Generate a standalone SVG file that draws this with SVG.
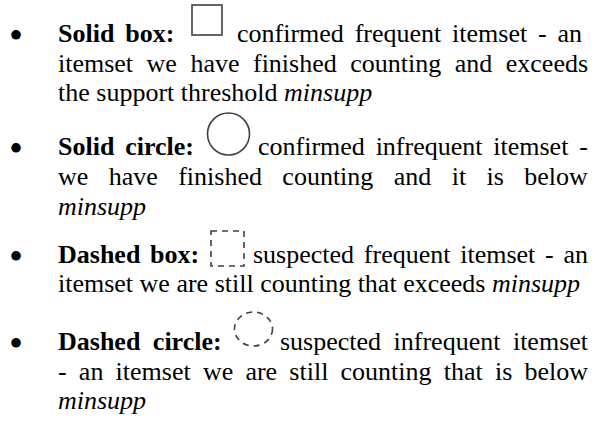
<svg xmlns="http://www.w3.org/2000/svg" width="595" height="421" viewBox="0 0 595 421">
<style>
text{font-family:"Liberation Serif","Times New Roman",serif;font-size:26px;fill:#000}
.b{font-weight:bold}
.i{font-style:italic}
.bul{font-size:40px}
.ic{fill:none;stroke:#404040;stroke-width:1.6}
.d{stroke-dasharray:6 5}
</style>
<rect width="595" height="421" fill="#fff"/>
<g id="item-solid-box">
<text class="bul" x="9" y="49">•</text>
<text class="b" x="58" y="42" word-spacing="4.3">Solid box:</text>
<rect class="ic" x="192" y="5" width="30" height="30"/>
<text x="237" y="42" word-spacing="4.3">confirmed frequent itemset - an</text>
<text x="58" y="72" word-spacing="7">itemset we have finished counting and exceeds</text>
<text x="58" y="101">the support threshold <tspan class="i">minsupp</tspan></text>
</g>
<g id="item-solid-circle">
<text class="bul" x="9" y="162">•</text>
<text class="b" x="58" y="155" word-spacing="4.3">Solid circle:</text>
<circle class="ic" cx="228.5" cy="134" r="21"/>
<text x="258" y="155" word-spacing="4.3">confirmed infrequent itemset -</text>
<text x="58" y="185" word-spacing="13.9">we have finished counting and it is below</text>
<text class="i" x="58" y="215">minsupp</text>
</g>
<g id="item-dashed-box">
<text class="bul" x="9" y="270">•</text>
<text class="b" x="58" y="263" word-spacing="3.25">Dashed box:</text>
<rect class="ic d" x="211" y="231" width="33" height="35"/>
<text x="253" y="263" word-spacing="3.25">suspected frequent itemset - an</text>
<text x="58" y="292">itemset we are still counting that exceeds <tspan class="i">minsupp</tspan></text>
</g>
<g id="item-dashed-circle">
<text class="bul" x="9" y="357">•</text>
<text class="b" x="58" y="350" word-spacing="6">Dashed circle:</text>
<ellipse class="ic d" cx="253.5" cy="329" rx="19" ry="17"/>
<text x="280" y="350" word-spacing="6">suspected infrequent itemset</text>
<text x="58" y="380" word-spacing="5.7">- an itemset we are still counting that is below</text>
<text class="i" x="58" y="409">minsupp</text>
</g>
</svg>
